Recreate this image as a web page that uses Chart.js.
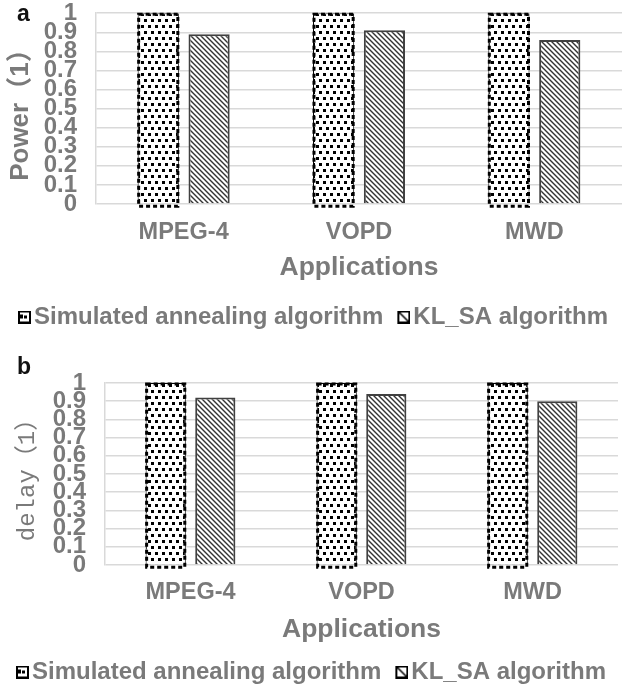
<!DOCTYPE html>
<html>
<head>
<meta charset="utf-8">
<script src="https://cdn.jsdelivr.net/npm/chart.js@4.4.1/dist/chart.umd.min.js"></script>
<style>
  body { margin: 0; background: #fff; }
  #wrap { position: relative; width: 622px; height: 694px; }
  .box { position: absolute; left: 0; width: 622px; height: 347px; }
  .tag { position: absolute; font: bold 23px "Liberation Sans", Arial, sans-serif; color: #111; }
</style>
</head>
<body>
<div id="wrap">
  <div class="box" style="top:0"><canvas id="chartA"></canvas></div>
  <div class="box" style="top:347px"><canvas id="chartB"></canvas></div>
  <div class="tag" style="left:17px;top:0px">a</div>
  <div class="tag" style="left:17px;top:353px">b</div>
</div>
<script>
// data
const applications = ["MPEG-4", "VOPD", "MWD"];
const seriesNames = ["Simulated annealing algorithm", "KL_SA algorithm"];
const powerSA = [1, 1, 1];
const powerKLSA = [0.89, 0.91, 0.86];
const delaySA = [1, 1, 1];
const delayKLSA = [0.92, 0.94, 0.90];
const yTickLabels = ["0", "0.1", "0.2", "0.3", "0.4", "0.5", "0.6", "0.7", "0.8", "0.9", "1"];

const grey = "#7a7a7a";
Chart.defaults.font.family = '"Liberation Sans", Arial, sans-serif';

function dotPattern() {
  const c = document.createElement("canvas");
  c.width = 7; c.height = 12;
  const g = c.getContext("2d");
  g.fillStyle = "#fff";
  g.fillRect(0, 0, 7, 12);
  g.fillStyle = "#000";
  g.fillRect(1, 1, 3, 3);
  g.fillRect(4, 7, 3, 3);
  return g.createPattern(c, "repeat");
}

function hatchPattern() {
  const s = 5;
  const c = document.createElement("canvas");
  c.width = s; c.height = s;
  const g = c.getContext("2d");
  g.fillStyle = "#fff";
  g.fillRect(0, 0, s, s);
  g.strokeStyle = "#333";
  g.lineWidth = 1.4;
  g.beginPath();
  g.moveTo(-1, -1); g.lineTo(s + 1, s + 1);
  g.moveTo(-1, s - 1); g.lineTo(1, s + 1);
  g.moveTo(s - 1, -1); g.lineTo(s + 1, 1);
  g.stroke();
  return g.createPattern(c, "repeat");
}

// legend swatch: 26px wide image, the 13px box sits at its right end
function legendIcon(kind) {
  const c = document.createElement("canvas");
  c.width = 26; c.height = 13;
  const g = c.getContext("2d");
  const x0 = 13;
  g.fillStyle = "#000";
  g.fillRect(x0, 0, 13, 13);
  g.fillStyle = "#fff";
  g.fillRect(x0 + 2, 2, 9, 9);
  if (kind === "dots") {
    g.fillStyle = "#000";
    g.fillRect(x0 + 2, 4, 3, 4);
    g.fillRect(x0 + 6, 5, 3, 3);
  } else {
    g.strokeStyle = "#000";
    g.lineWidth = 1.6;
    g.beginPath();
    g.moveTo(x0 + 2, 2); g.lineTo(x0 + 11, 11);
    g.stroke();
  }
  return c;
}

// dashed outline for the dotted bars
const dashBorder = {
  id: "dashBorder",
  afterDatasetDraw(chart, args) {
    const ds = chart.data.datasets[args.index];
    if (!ds.dashed) return;
    const ctx = chart.ctx;
    ctx.save();
    ctx.strokeStyle = "#000";
    ctx.lineWidth = 3;
    ctx.setLineDash([4, 3]);
    args.meta.data.forEach(bar => {
      const p = bar.getProps(["x", "y", "base", "width"], true);
      ctx.strokeRect(p.x - p.width / 2 + 1, p.y + 1, p.width - 2, p.base - p.y + 2);
    });
    ctx.restore();
  }
};

function makeChart(id, saData, klData, yTitle, yTitleFont, opts) {
  new Chart(document.getElementById(id), {
    type: "bar",
    data: {
      labels: applications,
      datasets: [
        {
          label: seriesNames[0],
          data: saData,
          backgroundColor: dotPattern(),
          borderColor: "#000",
          borderWidth: 1,
          pointStyle: legendIcon("dots"),
          dashed: true,
        },
        {
          label: seriesNames[1],
          data: klData,
          backgroundColor: hatchPattern(),
          borderColor: "#404040",
          borderWidth: 2,
          pointStyle: legendIcon("hatch"),
        },
      ],
    },
    options: {
      responsive: true,
      maintainAspectRatio: false,
      animation: false,
      categoryPercentage: 0.58,
      barPercentage: 0.81,
      layout: { padding: opts.padding },
      plugins: {
        tooltip: { enabled: false },
        legend: {
          position: "bottom",
          labels: {
            color: grey,
            usePointStyle: true,
            pointStyleWidth: 8,
            padding: 10,
            font: { size: 24, weight: "bold" },
          },
        },
      },
      scales: {
        x: {
          grid: { display: false, drawTicks: false },
          border: { display: false },
          ticks: { color: grey, padding: opts.xTickPad, font: { size: 23.5, weight: "bold" } },
          title: {
            display: true,
            text: "Applications",
            color: grey,
            font: { size: 26.5, weight: "bold" },
            padding: opts.xTitlePad,
          },
        },
        y: {
          min: 0,
          max: 1,
          afterFit: s => { s.width = opts.yWidth; },
          grid: { color: "#d9d9d9", lineWidth: 1.5, drawTicks: true, tickLength: 19, tickColor: "rgba(0,0,0,0)" },
          border: { display: true, color: "#d9d9d9", width: 1.5 },
          ticks: {
            stepSize: 0.1,
            autoSkip: false,
            color: grey,
            padding: 0,
            font: { size: 24, weight: "bold", lineHeight: 1.1 },
            callback: (v, i) => yTickLabels[i],
          },
          title: {
            display: true,
            text: yTitle,
            color: grey,
            font: yTitleFont,
            padding: { top: opts.yTitleOffset, bottom: 0 },
          },
        },
      },
    },
    plugins: [dashBorder],
  });
}

makeChart("chartA", powerSA, powerKLSA, "Power（1）",
  { size: 26, weight: "bold", family: '"Liberation Sans", "Noto Sans CJK SC", sans-serif' },
  {
    padding: { top: 0, right: 0, bottom: 8, left: 0 },
    xTickPad: 14, xTitlePad: { top: -8, bottom: 11 }, yWidth: 96, yTitleOffset: 5,
  });

makeChart("chartB", delaySA, delayKLSA, "delay（1）",
  { size: 24, weight: "normal", family: '"Liberation Mono", "Noto Sans CJK SC", monospace' },
  {
    padding: { top: 36, right: 4, bottom: 0, left: 0 },
    xTickPad: 13, xTitlePad: { top: -5, bottom: 4 }, yWidth: 105, yTitleOffset: 13,
  });
</script>
</body>
</html>
